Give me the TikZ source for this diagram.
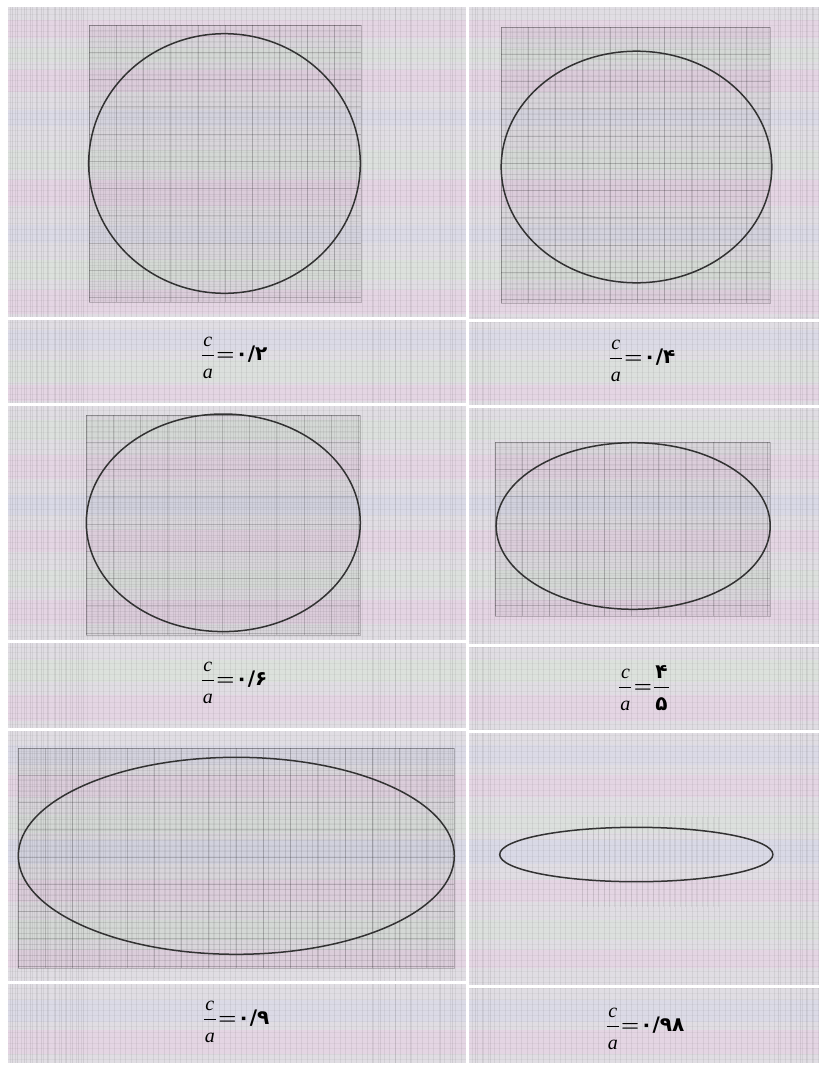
\documentclass[tikz,border=0pt]{standalone}
\usepackage{fontspec}
\usepackage{amsmath}
\newfontfamily\fadig{DejaVu Sans}
\newfontfamily\lsit{Liberation Serif}[UprightFont=*-Italic]
\definecolor{paper}{RGB}{224,221,227}
\definecolor{bandpink}{RGB}{238,196,228}
\definecolor{bandgreen}{RGB}{212,236,206}
\definecolor{bandblue}{RGB}{200,208,242}
\definecolor{inkline}{RGB}{50,50,50}
\newcommand\gridpatch[4]{%
  \fill[black,opacity=0.035] (#1,#2) rectangle (#3,#4);
  \begin{scope}
    \clip (#1,#2) rectangle (#3,#4);
    \pgfmathtruncatemacro\gpnx{(#3-#1)/5.45}
    \pgfmathtruncatemacro\gpny{(#4-#2)/5.45}
    \pgfmathtruncatemacro\gpmx{(#3-#1)/27.25}
    \pgfmathtruncatemacro\gpmy{(#4-#2)/27.25}
    \foreach \i in {0,...,\gpnx} \draw[patchfine] (#1+\i*5.45,#2) -- (#1+\i*5.45,#4);
    \foreach \i in {0,...,\gpny} \draw[patchfine] (#1,#2+\i*5.45) -- (#3,#2+\i*5.45);
    \foreach \i in {0,...,\gpmx} \draw[patchmajor] (#1+\i*27.25,#2) -- (#1+\i*27.25,#4);
    \foreach \i in {0,...,\gpmy} \draw[patchmajor] (#1,#2+\i*27.25) -- (#3,#2+\i*27.25);
  \end{scope}
  \draw[patchborder] (#1,#2) rectangle (#3,#4);
}
\newcommand\fr[2]{\genfrac{}{}{1.3pt}{0}{\rule[-3pt]{0pt}{0pt}\mbox{\kern1pt#1\kern1pt}}{\rule{0pt}{18pt}\mbox{\kern1pt#2\kern1pt}}}
\newcommand\ca{\fr{\lsit c}{\lsit a}}
\newcommand\eqs{\mkern1mu\mathord{\boldsymbol{=}}\mkern1mu}
\begin{document}
\begin{tikzpicture}[x=1pt,y=-1pt,
  patchfine/.style={black,opacity=0.055,line width=0.5pt},
  patchmajor/.style={black,opacity=0.13,line width=0.7pt},
  patchborder/.style={black,opacity=0.2,line width=0.8pt},
  finev/.style={black,opacity=0.06,line width=0.6pt},
  fineh/.style={black,opacity=0.035,line width=0.5pt},
  sepline/.style={white,line width=3pt},
  curve/.style={draw=inkline,line width=1.5pt},
  caplbl/.style={inner sep=0pt,font=\fontsize{20}{22}\selectfont}]
\useasboundingbox (0,0) rectangle (819,1079);
\fill[white] (0,0) rectangle (819,1079);
\fill[paper] (8,7) rectangle (819,1063);
% pastel bands of the scan
\foreach \yy/\hh/\cc/\oo in {20/18/bandpink/0.3,48/14/bandgreen/0.25,70/22/bandpink/0.35,110/16/bandblue/0.2,
  150/20/bandgreen/0.25,180/26/bandpink/0.35,225/18/bandblue/0.2,260/20/bandgreen/0.3,290/24/bandpink/0.3,
  330/20/bandblue/0.2,360/22/bandgreen/0.25,385/16/bandpink/0.3,420/20/bandgreen/0.25,455/24/bandpink/0.3,
  495/20/bandblue/0.25,530/22/bandpink/0.3,570/18/bandgreen/0.25,600/24/bandpink/0.35,660/22/bandgreen/0.3,
  695/26/bandpink/0.3,745/20/bandblue/0.2,775/22/bandpink/0.3,815/18/bandgreen/0.25,840/24/bandblue/0.25,
  880/22/bandpink/0.3,920/20/bandgreen/0.25,950/18/bandpink/0.3,1000/22/bandblue/0.2,1030/24/bandpink/0.3}
  \fill[\cc,opacity=\oo] (8,\yy) rectangle (819,\yy+\hh);
% background graph-paper lines
\foreach \i in {0,...,147} \draw[finev] (10+\i*5.5,7) -- (10+\i*5.5,1063);
\foreach \i in {0,...,191} \draw[fineh] (8,9+\i*5.5) -- (819,9+\i*5.5);
\foreach \xx in {12,17,24,30,36,41,47,55,61,66,72,78,83,
  372,380,395,410,440,452,475,482,490,778,790,800,806,812}
  \draw[black,opacity=0.08,line width=0.8pt] (\xx,7) -- (\xx,1063);
% graph-paper patches behind the curves
\gridpatch{89}{25}{361}{302}
\gridpatch{501}{27}{770}{303}
\gridpatch{86}{415}{360}{635}
\gridpatch{495}{442}{770}{616}
\gridpatch{18}{748}{454}{968}
\begin{scope}[opacity=0.5]
\foreach \i in {0,...,25} \draw[finev] (582+\i*5.45,817) -- (582+\i*5.45,907);
\end{scope}
% white cut lines of the plate
\draw[sepline] (467,7) -- (467,1063);
\foreach \yl/\yr in {318/320,404/406,641/645,729/731,982/986}{
  \draw[sepline] (8,\yl) -- (467,\yl);
  \draw[sepline] (467,\yr) -- (819,\yr);
}
% ellipses
\draw[curve] (224.5,163.5) ellipse [x radius=135.8, y radius=129.8];
\draw[curve] (636.5,167) ellipse [x radius=135.3, y radius=115.8];
\draw[curve] (223.3,522.8) ellipse [x radius=137, y radius=108.8];
\draw[curve] (633.2,526) ellipse [x radius=137, y radius=83.3];
\draw[curve] (236.3,855.8) ellipse [x radius=218, y radius=98.5];
\draw[curve] (636.3,854.5) ellipse [x radius=136.6, y radius=27.2];
% labels
\node[caplbl] (lab1) at (234,358) {$\ca\eqs$\fadig\bfseries ۰/۲};
\node[caplbl] (lab2) at (642,361) {$\ca\eqs$\fadig\bfseries ۰/۴};
\node[caplbl] (lab3) at (234,683) {$\ca\eqs$\fadig\bfseries ۰/۶};
\node[caplbl] (lab4) at (644,688) {$\ca\eqs\fr{\fadig\bfseries ۴}{\fadig\bfseries ۵}$};
\node[caplbl] (lab5) at (236,1022) {$\ca\eqs$\fadig\bfseries ۰/۹};
\node[caplbl] (lab6) at (645,1029) {$\ca\eqs$\fadig\bfseries ۰/۹۸};
\end{tikzpicture}
\end{document}
